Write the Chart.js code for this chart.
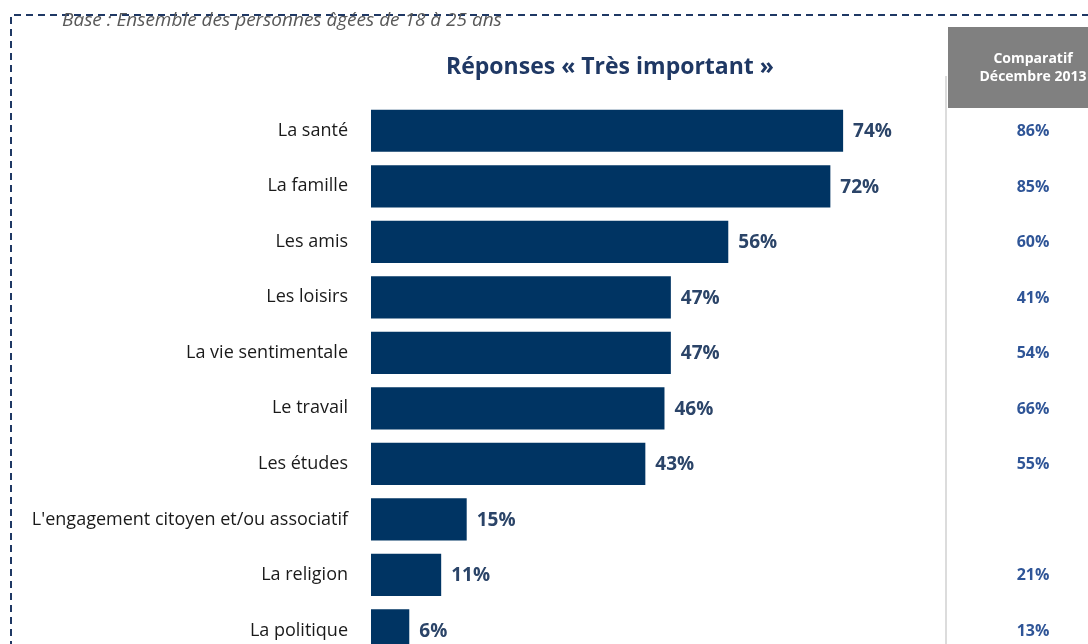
<!DOCTYPE html>
<html>
<head>
<meta charset="utf-8">
<script src="https://cdn.jsdelivr.net/npm/chart.js@4.4.0/dist/chart.umd.min.js"></script>
<style>
	html, body { margin: 0; padding: 0; background: #fff; overflow: hidden; }
	canvas { display: block; }
</style>
</head>
<body>
<canvas id="chart" width="1088" height="684"></canvas>
<script>
const categories = [
	'La santé',
	'La famille',
	'Les amis',
	'Les loisirs',
	'La vie sentimentale',
	'Le travail',
	'Les études',
	"L'engagement citoyen et/ou associatif",
	'La religion',
	'La politique'
];
const tresImportant = [74, 72, 56, 47, 47, 46, 43, 15, 11, 6];
const comparatif2013 = [86, 85, 60, 41, 54, 66, 55, null, 21, 13];

const baseText = 'Base : Ensemble des personnes âgées de 18 à 25 ans';
const titleText = 'Réponses « Très important »';
const compHeader = ['Comparatif', 'Décembre 2013'];

const fontFamily = '"Open Sans", "Noto Sans", sans-serif';

// frame, title, right column
const decorPlugin = {
	id: 'decor',
	beforeDraw(chart) {
		const { ctx } = chart;
		ctx.save();
		// dashed frame
		ctx.strokeStyle = '#1f3864';
		ctx.lineWidth = 2;
		ctx.setLineDash([7, 5]);
		ctx.beginPath();
		ctx.moveTo(11, 720);
		ctx.lineTo(11, 15);
		ctx.lineTo(1100, 15);
		ctx.stroke();
		ctx.setLineDash([]);

		// base text
		ctx.font = 'italic 19px ' + fontFamily;
		ctx.fillStyle = '#595959';
		ctx.textAlign = 'left';
		ctx.textBaseline = 'middle';
		ctx.fillText(baseText, 62, 21);

		// title
		ctx.font = 'bold 23px ' + fontFamily;
		ctx.fillStyle = '#1f3864';
		ctx.textAlign = 'center';
		ctx.fillText(titleText, 610, 67);

		// comparatif header box
		ctx.fillStyle = '#808080';
		ctx.fillRect(948, 27, 150, 81);
		ctx.fillStyle = '#ffffff';
		ctx.font = 'bold 14px ' + fontFamily;
		ctx.fillText(compHeader[0], 1033, 59);
		ctx.fillText(compHeader[1], 1033, 77);

		// column separator
		ctx.strokeStyle = '#dcdcdc';
		ctx.lineWidth = 2;
		ctx.beginPath();
		ctx.moveTo(946, 76);
		ctx.lineTo(946, 720);
		ctx.stroke();
		ctx.restore();
	},
	afterDatasetsDraw(chart) {
		const { ctx } = chart;
		const meta = chart.getDatasetMeta(0);
		ctx.save();
		ctx.textBaseline = 'middle';
		meta.data.forEach((bar, i) => {
			ctx.font = 'bold 19px ' + fontFamily;
			ctx.fillStyle = '#2b4468';
			ctx.textAlign = 'left';
			ctx.fillText(tresImportant[i] + '%', bar.x + 10, bar.y + 1);
			if (comparatif2013[i] !== null) {
				ctx.font = 'bold 16px ' + fontFamily;
				ctx.fillStyle = '#2f5597';
				ctx.textAlign = 'center';
				ctx.fillText(comparatif2013[i] + '%', 1033, bar.y + 1);
			}
		});
		ctx.restore();
	}
};

new Chart(document.getElementById('chart'), {
	type: 'bar',
	data: {
		labels: categories,
		datasets: [
			{
				label: 'Très important',
				data: tresImportant,
				backgroundColor: '#003463',
				borderWidth: 0,
				categoryPercentage: 1,
				barPercentage: 0.76,
			},
		]
	},
	options: {
		indexAxis: 'y',
		responsive: false,
		animation: false,
		layout: { padding: { top: 103, right: 79, bottom: 0, left: 0 } },
		plugins: {
			legend: { display: false },
			tooltip: { enabled: false },
		},
		scales: {
			x: {
				min: 0,
				max: 100,
				display: false,
			},
			y: {
				afterFit(scale) { scale.width = 371; },
				grid: { display: false },
				border: { display: false },
				ticks: {
					color: '#1a1a1a',
					padding: 15,
					font: { family: fontFamily, size: 18 },
				},
			},
		},
	},
	plugins: [decorPlugin],
});
</script>
</body>
</html>
